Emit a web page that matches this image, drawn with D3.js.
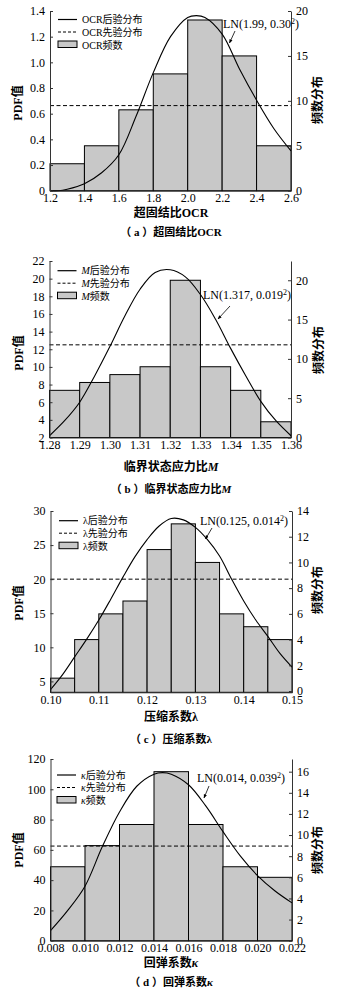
<!DOCTYPE html>
<html><head><meta charset="utf-8">
<script src="https://cdn.jsdelivr.net/npm/d3@7"></script>
<style>
body{margin:0;background:#fff}
svg{display:block}
text{font-family:"Liberation Serif","Times New Roman","Noto Sans CJK SC",serif;fill:#000}
</style>
</head><body>
<svg id="c" width="342" height="998"></svg>
<script>
// ---------- (a) OCR ----------
const ocrEdges = [1.2,1.4,1.6,1.8,2.0,2.2,2.4,2.6];
const ocrCounts = [3,5,9,13,19,15,5];
const ocrPrior = 0.663;
const ocrCurveX = [1.2,1.25,1.3,1.4,1.5,1.6,1.7,1.8,1.9,2.0,2.05,2.1,2.2,2.3,2.4,2.5,2.6];
const ocrCurveY = [0.0,0.0,0.012,0.055,0.14,0.28,0.58,0.92,1.2,1.35,1.364,1.35,1.22,0.95,0.705,0.485,0.31];
const ocrLeftTicks = [0,0.2,0.4,0.6,0.8,1.0,1.2,1.4];
const ocrRightTicks = [0,5,10,15,20];
const ocrXTicks = [1.2,1.4,1.6,1.8,2.0,2.2,2.4,2.6];
const ocrLeftDomain = [0,1.4];
const ocrRightDomain = [0,20];

// ---------- (b) M ----------
const mEdges = [1.28,1.29,1.30,1.31,1.32,1.33,1.34,1.35,1.36];
const mCounts = [6,7,8,9,20,9,6,2];
const mPrior = 12.5;
const mCurveX = [1.28,1.285,1.29,1.295,1.30,1.305,1.31,1.315,1.32,1.325,1.33,1.335,1.34,1.345,1.35,1.355,1.36];
const mCurveY = [2.2,3.9,6.0,9.0,12.3,15.8,18.8,20.7,21.0,20.2,18.2,15.4,12.1,9.0,6.1,3.9,2.2];
const mLeftTicks = [2,4,6,8,10,12,14,16,18,20,22];
const mRightTicks = [0,5,10,15,20];
const mXTicks = [1.28,1.29,1.30,1.31,1.32,1.33,1.34,1.35,1.36];
const mLeftDomain = [2,22];
const mRightDomain = [0,22.45];

// ---------- (c) lambda ----------
const lamEdges = [0.100,0.105,0.110,0.115,0.120,0.125,0.130,0.135,0.140,0.145,0.150];
const lamCounts = [1,4,6,7,11,13,10,6,5,4];
const lamPrior = 20;
const lamCurveX = [0.100,0.1025,0.105,0.1075,0.110,0.1125,0.115,0.1175,0.120,0.1225,0.125,0.1275,0.130,0.1325,0.135,0.1375,0.140,0.1425,0.145,0.1475,0.150];
const lamCurveY = [3.8,6.0,8.6,11.2,14.0,17.1,20.3,23.3,25.8,27.8,28.9,28.7,27.6,25.8,23.4,20.0,16.8,14.0,11.6,9.1,7.1];
const lamLeftTicks = [5,10,15,20,25,30];
const lamRightTicks = [0,2,4,6,8,10,12,14];
const lamXTicks = [0.10,0.11,0.12,0.13,0.14,0.15];
const lamLeftDomain = [3.4,30];
const lamRightDomain = [-0.1,14];

// ---------- (d) kappa ----------
const kapEdges = [0.008,0.010,0.012,0.014,0.016,0.018,0.020,0.022];
const kapCounts = [7,9,11,16,11,7,6];
const kapPrior = 62.5;
const kapCurveX = [0.008,0.009,0.010,0.011,0.012,0.013,0.014,0.0145,0.015,0.016,0.017,0.018,0.019,0.020,0.021,0.022];
const kapCurveY = [6.6,20,36,62,85,102,110,111,110,103,89,72,56,43,33,25];
const kapLeftTicks = [0,20,40,60,80,100,120];
const kapRightTicks = [0,2,4,6,8,10,12,14,16];
const kapXTicks = [0.008,0.010,0.012,0.014,0.016,0.018,0.020,0.022];
const kapLeftDomain = [0,120];
const kapRightDomain = [0,17.2];

// ---------- texts ----------
const panelSymbols = [{t:"OCR",i:false},{t:"M",i:true},{t:"λ",i:false},{t:"κ",i:true}];
const xLabels = ["超固结比","临界状态应力比","压缩系数","回弹系数"];
const captionLetters = ["a","b","c","d"];
const lnMain = ["LN(1.99, 0.30","LN(1.317, 0.019","LN(0.125, 0.014","LN(0.014, 0.039"];

const svg = d3.select("#c");
svg.append("rect").attr("width",342).attr("height",998).attr("fill","#fff");
const defs = svg.append("defs");
defs.append("marker").attr("id","arr").attr("viewBox","0 0 10 10").attr("refX",9).attr("refY",5)
  .attr("markerWidth",5).attr("markerHeight",5).attr("orient","auto")
  .append("path").attr("d","M0,1 L10,5 L0,9 z").attr("fill","#000");

const panels = [
  {edges:ocrEdges,counts:ocrCounts,prior:ocrPrior,cx:ocrCurveX,cy:ocrCurveY,lt:ocrLeftTicks,rt:ocrRightTicks,xt:ocrXTicks,ld:ocrLeftDomain,rd:ocrRightDomain,
   lfmt:d=>d===0?"0":d3.format(".1f")(d), xfmt:d3.format(".1f"),
   x0:50,x1:291,y0:11,y1:190.7, leg:[58,19.5], ln:[223,28], arrow:[[235,31],[229.5,43]], yl:[18,103], yr:[318,100], xl:213, cap:232},
  {edges:mEdges,counts:mCounts,prior:mPrior,cx:mCurveX,cy:mCurveY,lt:mLeftTicks,rt:mRightTicks,xt:mXTicks,ld:mLeftDomain,rd:mRightDomain,
   lfmt:d3.format("d"), xfmt:d3.format(".2f"),
   x0:49.5,x1:291,y0:261,y1:437.5, leg:[57.5,270.7], ln:[203,299], arrow:[[230,306],[218,319]], yl:[19,353], yr:[319,350], xl:467, cap:489},
  {edges:lamEdges,counts:lamCounts,prior:lamPrior,cx:lamCurveX,cy:lamCurveY,lt:lamLeftTicks,rt:lamRightTicks,xt:lamXTicks,ld:lamLeftDomain,rd:lamRightDomain,
   lfmt:d3.format("d"), xfmt:d3.format(".2f"),
   x0:50.5,x1:292,y0:511,y1:692.3, leg:[59,520.7], ln:[200,525], arrow:[[212,528],[205.5,539]], yl:[19,603], yr:[318,590], xl:717, cap:739},
  {edges:kapEdges,counts:kapCounts,prior:kapPrior,cx:kapCurveX,cy:kapCurveY,lt:kapLeftTicks,rt:kapRightTicks,xt:kapXTicks,ld:kapLeftDomain,rd:kapRightDomain,
   lfmt:d3.format("d"), xfmt:d3.format(".3f"),
   x0:50.5,x1:292,y0:759,y1:940.7, leg:[57,775], ln:[197,782], arrow:[[209,786],[204,798]], yl:[19,850], yr:[318,850], xl:963, cap:982}
];

function richText(sel, parts){
  parts.forEach(p=>{
    const ts = sel.append("tspan").text(p.t);
    if(p.i) ts.attr("font-style","italic");
  });
}

panels.forEach((p,k)=>{
  const g = svg.append("g");
  const x = d3.scaleLinear().domain([p.edges[0],p.edges[p.edges.length-1]]).range([p.x0,p.x1]);
  const yL = d3.scaleLinear().domain(p.ld).range([p.y1,p.y0]);
  const yR = d3.scaleLinear().domain(p.rd).range([p.y1,p.y0]);
  const sym = panelSymbols[k];

  // bars
  const bins = p.counts.map((c,i)=>({a:p.edges[i],b:p.edges[i+1],c}));
  g.selectAll("rect.bar").data(bins).enter().append("rect")
    .attr("x",d=>x(d.a)).attr("width",d=>x(d.b)-x(d.a))
    .attr("y",d=>yR(d.c)).attr("height",d=>p.y1-yR(d.c))
    .attr("fill","#c8c8c8").attr("stroke","#000").attr("stroke-width",1);

  // prior
  g.append("line").attr("x1",p.x0).attr("x2",p.x1).attr("y1",yL(p.prior)).attr("y2",yL(p.prior))
    .attr("stroke","#000").attr("stroke-width",1).attr("stroke-dasharray","4,2.5");

  // posterior curve
  const pts = p.cx.map((v,i)=>[v,p.cy[i]]);
  g.append("path").datum(pts)
    .attr("d",d3.line().x(d=>x(d[0])).y(d=>yL(d[1])).curve(d3.curveCatmullRom.alpha(0.5)))
    .attr("fill","none").attr("stroke","#000").attr("stroke-width",1.1);

  // axes
  const axL = d3.axisLeft(yL).tickValues(p.lt).tickFormat(p.lfmt).tickSizeInner(-3).tickSizeOuter(0).tickPadding(5);
  const axR = d3.axisRight(yR).tickValues(p.rt).tickFormat(d3.format("d")).tickSizeInner(-3).tickSizeOuter(0).tickPadding(5);
  const axB = d3.axisBottom(x).tickValues(p.xt).tickFormat(p.xfmt).tickSize(0).tickPadding(3);
  [ [axL,`translate(${p.x0},0)`], [axR,`translate(${p.x1},0)`], [axB,`translate(0,${p.y1})`] ].forEach(([ax,tr])=>{
    const a = g.append("g").attr("transform",tr).call(ax);
    a.select(".domain").attr("stroke","#333").attr("stroke-width",1);
    a.selectAll(".tick line").attr("stroke","#333");
    a.selectAll("text").style("font-size","12px").attr("fill","#000");
  });

  // legend
  const [lx,ly] = p.leg;
  const fs = 10;
  g.append("line").attr("x1",lx).attr("x2",lx+19).attr("y1",ly).attr("y2",ly).attr("stroke","#000").attr("stroke-width",1.2);
  g.append("line").attr("x1",lx).attr("x2",lx+19).attr("y1",ly+12.5).attr("y2",ly+12.5).attr("stroke","#000").attr("stroke-width",1).attr("stroke-dasharray","3,2");
  g.append("rect").attr("x",lx).attr("y",ly+21.5).attr("width",19).attr("height",6.5).attr("fill","#c8c8c8").attr("stroke","#000").attr("stroke-width",1);
  ["后验分布","先验分布","频数"].forEach((s,i)=>{
    const t = g.append("text").attr("x",lx+24).attr("y",ly+3.5+i*12.5+(i===2?0.5:0)).style("font-size",fs+"px");
    richText(t,[sym,{t:s}]);
  });

  // LN label with superscript
  const ln = g.append("text").attr("x",p.ln[0]).attr("y",p.ln[1]).style("font-size","12px");
  ln.append("tspan").text(lnMain[k]);
  ln.append("tspan").text("2").attr("dy",-4.5).style("font-size","8px");
  ln.append("tspan").text(")").attr("dy",4.5);
  g.append("line").attr("x1",p.arrow[0][0]).attr("y1",p.arrow[0][1]).attr("x2",p.arrow[1][0]).attr("y2",p.arrow[1][1])
    .attr("stroke","#000").attr("stroke-width",0.8).attr("marker-end","url(#arr)");

  // axis titles
  g.append("text").attr("transform",`translate(${p.yl[0]},${p.yl[1]}) rotate(-90)`).attr("text-anchor","middle")
    .attr("dy","0.35em").style("font-size","12px").style("font-weight","bold").text("PDF值");
  g.append("text").attr("transform",`translate(${p.yr[0]},${p.yr[1]}) rotate(-90)`).attr("text-anchor","middle")
    .attr("dy","0.35em").style("font-size","12px").style("font-weight","bold").text("频数分布");
  const xl = g.append("text").attr("x",171).attr("y",p.xl).attr("dy","0.35em").attr("text-anchor","middle").style("font-size","12px").style("font-weight","bold");
  richText(xl,[{t:xLabels[k]},sym]);
  const cap = g.append("text").attr("x",171).attr("y",p.cap).attr("dy","0.35em").attr("text-anchor","middle").style("font-size","11px").style("font-weight","bold");
  richText(cap,[{t:"（ "+captionLetters[k]+" ）"+xLabels[k]},sym]);
});
</script>
</body></html>
